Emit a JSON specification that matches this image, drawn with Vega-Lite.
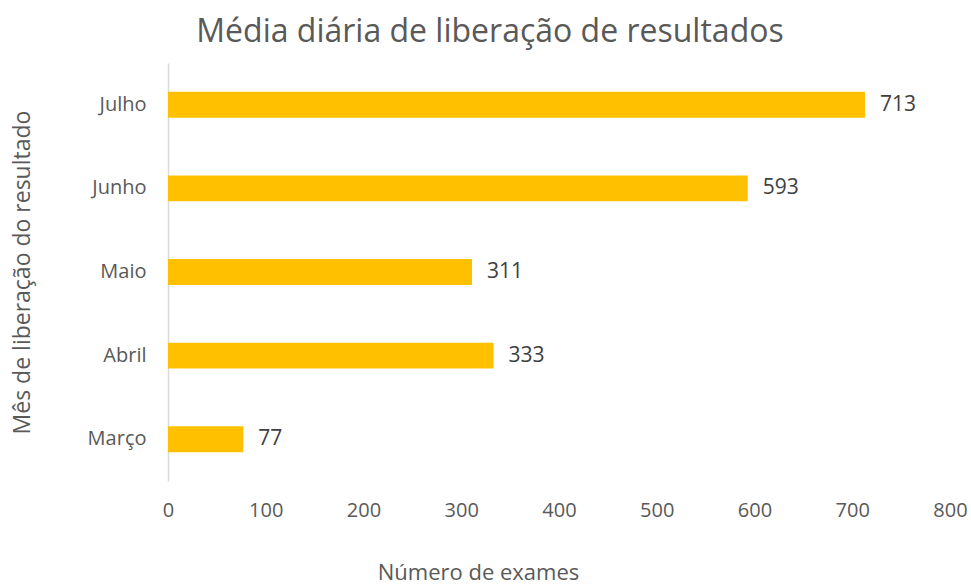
{
  "$schema": "https://vega.github.io/schema/vega-lite/v6.json",
  "width": 782,
  "height": 418,
  "autosize": {"type": "none"},
  "padding": {"left": 168, "top": 63, "right": 21, "bottom": 106},
  "background": "white",
  "title": {
    "text": "Média diária de liberação de resultados",
    "font": "Open Sans",
    "fontSize": 32,
    "fontWeight": "normal",
    "color": "#595959",
    "anchor": "middle",
    "dx": -69,
    "offset": 14
  },
  "data": {
    "values": [
      {"mes": "Julho", "valor": 713},
      {"mes": "Junho", "valor": 593},
      {"mes": "Maio", "valor": 311},
      {"mes": "Abril", "valor": 333},
      {"mes": "Março", "valor": 77}
    ]
  },
  "encoding": {
    "y": {
      "field": "mes",
      "type": "nominal",
      "sort": ["Julho", "Junho", "Maio", "Abril", "Março"],
      "scale": {"paddingInner": 0.69, "paddingOuter": 0.345},
      "axis": {
        "title": "Mês de liberação do resultado",
        "titleFont": "Open Sans",
        "titleFontSize": 23,
        "titleFontWeight": "normal",
        "titleColor": "#595959",
        "titleX": -146,
        "titleY": 209,
        "titleAngle": -90,
        "titleBaseline": "middle",
        "titleAlign": "center",
        "labelFont": "Open Sans",
        "labelFontSize": 20,
        "labelColor": "#595959",
        "labelPadding": 22,
        "ticks": false,
        "domainColor": "#d9d9d9",
        "domainWidth": 1.5,
        "grid": false
      }
    },
    "x": {
      "field": "valor",
      "type": "quantitative",
      "scale": {"domain": [0, 800]},
      "axis": {
        "title": "Número de exames",
        "titleFont": "Open Sans",
        "titleFontSize": 22,
        "titleFontWeight": "normal",
        "titleColor": "#595959",
        "titleX": 310,
        "titleY": 91,
        "titleBaseline": "middle",
        "titleAlign": "center",
        "labelFont": "Open Sans",
        "labelFontSize": 20,
        "labelColor": "#595959",
        "labelPadding": 19,
        "labelFlush": false,
        "ticks": false,
        "domain": false,
        "grid": false,
        "values": [0, 100, 200, 300, 400, 500, 600, 700, 800]
      }
    }
  },
  "layer": [
    {"mark": {"type": "bar", "color": "#FFC000"}},
    {
      "mark": {"type": "text", "align": "left", "dx": 15, "font": "Open Sans", "fontSize": 21, "color": "#404040"},
      "encoding": {"text": {"field": "valor", "type": "quantitative"}}
    }
  ],
  "config": {"view": {"stroke": null}}
}
